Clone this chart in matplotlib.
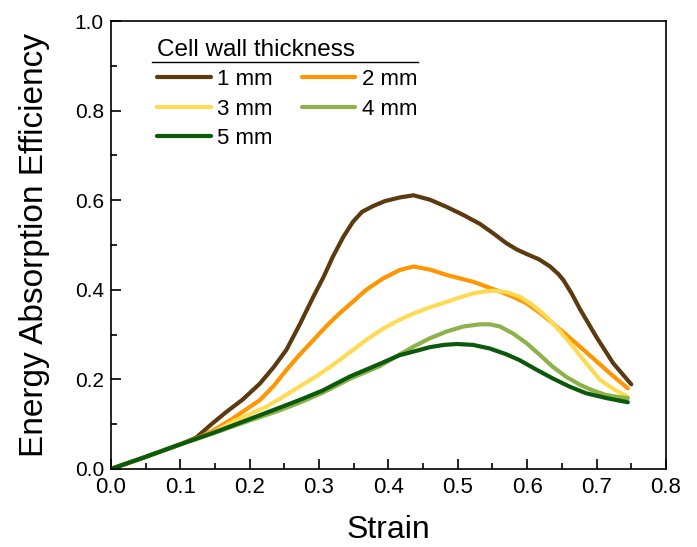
import matplotlib
matplotlib.use("Agg")
import matplotlib.pyplot as plt
from matplotlib.ticker import MultipleLocator

plt.rcParams['font.family'] = ['Liberation Sans', 'DejaVu Sans']

# Energy absorption efficiency vs. strain for each cell wall thickness
strain_1 = [0.0, 0.05, 0.10, 0.123, 0.145, 0.167, 0.19, 0.215, 0.235, 0.253, 0.272, 0.292, 0.307,
            0.320, 0.335, 0.349, 0.362, 0.378, 0.395, 0.416, 0.436, 0.46, 0.484, 0.508, 0.532,
            0.552, 0.570, 0.585, 0.599, 0.617, 0.633, 0.645, 0.652, 0.664, 0.676, 0.700, 0.724, 0.750]
eff_1 = [0.0, 0.027, 0.055, 0.070, 0.100, 0.128, 0.155, 0.191, 0.228, 0.266, 0.322, 0.385, 0.430,
         0.474, 0.518, 0.552, 0.574, 0.587, 0.598, 0.606, 0.611, 0.601, 0.585, 0.567, 0.547,
         0.525, 0.504, 0.490, 0.480, 0.468, 0.452, 0.435, 0.422, 0.392, 0.357, 0.294, 0.236, 0.189]

strain_2 = [0.0, 0.05, 0.10, 0.128, 0.150, 0.176, 0.195, 0.215, 0.235, 0.253, 0.272, 0.292, 0.310,
            0.330, 0.350, 0.368, 0.392, 0.416, 0.436, 0.460, 0.484, 0.522, 0.561, 0.580, 0.599,
            0.618, 0.637, 0.656, 0.676, 0.698, 0.719, 0.745]
eff_2 = [0.0, 0.027, 0.055, 0.071, 0.088, 0.113, 0.133, 0.154, 0.186, 0.221, 0.255, 0.288, 0.318,
         0.348, 0.375, 0.400, 0.425, 0.444, 0.452, 0.445, 0.433, 0.418, 0.396, 0.384, 0.370,
         0.349, 0.325, 0.300, 0.273, 0.243, 0.214, 0.180]

strain_3 = [0.0, 0.05, 0.10, 0.130, 0.150, 0.176, 0.200, 0.224, 0.248, 0.272, 0.296, 0.320, 0.344,
            0.368, 0.392, 0.416, 0.436, 0.460, 0.484, 0.503, 0.522, 0.537, 0.551, 0.570, 0.589,
            0.608, 0.628, 0.647, 0.666, 0.685, 0.705, 0.725, 0.745]
eff_3 = [0.0, 0.027, 0.055, 0.070, 0.083, 0.106, 0.122, 0.139, 0.161, 0.184, 0.207, 0.232, 0.260,
         0.288, 0.313, 0.333, 0.347, 0.361, 0.373, 0.383, 0.392, 0.396, 0.398, 0.395, 0.385,
         0.366, 0.340, 0.308, 0.273, 0.236, 0.199, 0.178, 0.161]

strain_4 = [0.0, 0.05, 0.10, 0.150, 0.196, 0.240, 0.272, 0.305, 0.344, 0.388, 0.412, 0.436, 0.460,
            0.484, 0.508, 0.532, 0.546, 0.561, 0.580, 0.599, 0.618, 0.637, 0.656, 0.676, 0.695,
            0.714, 0.730, 0.745]
eff_4 = [0.0, 0.027, 0.055, 0.081, 0.106, 0.129, 0.148, 0.170, 0.201, 0.230, 0.252, 0.273, 0.292,
         0.307, 0.318, 0.323, 0.323, 0.318, 0.302, 0.281, 0.255, 0.228, 0.206, 0.188, 0.175,
         0.165, 0.161, 0.158]

strain_5 = [0.0, 0.05, 0.10, 0.150, 0.196, 0.240, 0.272, 0.305, 0.344, 0.388, 0.416, 0.436, 0.460,
            0.480, 0.498, 0.522, 0.546, 0.570, 0.589, 0.613, 0.637, 0.661, 0.685, 0.715, 0.745]
eff_5 = [0.0, 0.027, 0.055, 0.082, 0.109, 0.135, 0.154, 0.175, 0.206, 0.235, 0.254, 0.262, 0.272,
         0.277, 0.279, 0.277, 0.269, 0.256, 0.243, 0.222, 0.202, 0.184, 0.169, 0.158, 0.149]

labels = ['1 mm', '2 mm', '3 mm', '4 mm', '5 mm']
colors = ['#5b3a0f', '#ff9500', '#ffdb55', '#8db24a', '#0b5a0b']

x_ticks = [0.0, 0.1, 0.2, 0.3, 0.4, 0.5, 0.6, 0.7, 0.8]
y_ticks = [0.0, 0.2, 0.4, 0.6, 0.8, 1.0]

fig = plt.figure(figsize=(6.97, 5.47), dpi=100)
ax = fig.add_axes([0.159, 0.1426, 0.7965, 0.819])

series = [(strain_1, eff_1), (strain_2, eff_2), (strain_3, eff_3),
          (strain_4, eff_4), (strain_5, eff_5)]
handles = []
for (xs, ys), lab, col in zip(series, labels, colors):
    h, = ax.plot(xs, ys, color=col, lw=3.0, label=lab, solid_capstyle='round',
                 solid_joinstyle='round')
    handles.append(h)

ax.set_xlim(0.0, 0.8)
ax.set_ylim(0.0, 1.0)
ax.set_xticks(x_ticks)
ax.set_yticks(y_ticks)
ax.set_xticklabels([f'{v:.1f}' for v in x_ticks])
ax.set_yticklabels([f'{v:.1f}' for v in y_ticks])
ax.xaxis.set_minor_locator(MultipleLocator(0.05))
ax.yaxis.set_minor_locator(MultipleLocator(0.1))
ax.tick_params(which='major', direction='in', length=7, width=1.2,
               top=False, right=False)
ax.tick_params(axis='x', which='major', labelsize=16, pad=6)
ax.tick_params(axis='y', which='major', labelsize=15, pad=5)
ax.tick_params(which='minor', direction='in', length=4, width=1.2, top=False, right=False)
for sp in ax.spines.values():
    sp.set_linewidth(1.2)

ax.set_xlabel('Strain', fontsize=23, labelpad=12)
ax.set_ylabel('Energy Absorption Efficiency', fontsize=24, labelpad=18)

order = [0, 2, 4, 1, 3]
leg = ax.legend([handles[i] for i in order], [labels[i] for i in order],
                ncol=2, frameon=False, fontsize=16, title='Cell wall thickness',
                title_fontsize=17.5, alignment='left', loc='upper left',
                bbox_to_anchor=(0.06, 0.99), handlelength=2.4, handletextpad=0.3,
                columnspacing=1.3, labelspacing=0.38, borderaxespad=0.2)
leg._legend_box.sep = 6
ax.plot([0.074, 0.553], [0.908, 0.908], transform=ax.transAxes, color='black',
        lw=1.0, clip_on=False)

fig.savefig('out.png', dpi=100)
